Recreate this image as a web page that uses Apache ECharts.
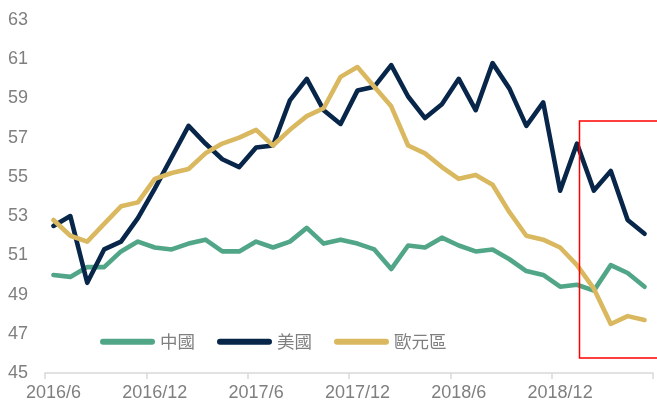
<!DOCTYPE html>
<html>
<head>
<meta charset="utf-8">
<script src="https://cdn.jsdelivr.net/npm/echarts@6/dist/echarts.min.js"></script>
<style>html,body{margin:0;padding:0;background:#fff;}#c{width:657px;height:404px;}</style>
</head>
<body>
<div id="c"></div>
<script>
// categories: monthly 2016/6 .. 2019/5
const categories = [];
for (let y = 2016, m = 6; categories.length < 36; ) {
  categories.push(y + '/' + m);
  m++; if (m > 12) { m = 1; y++; }
}
const seriesNames = ['中國', '美國', '歐元區'];
const china = [50.0, 49.9, 50.4, 50.4, 51.2, 51.7, 51.4, 51.3, 51.6, 51.8, 51.2, 51.2,
               51.7, 51.4, 51.7, 52.4, 51.6, 51.8, 51.6, 51.3, 50.3, 51.5, 51.4, 51.9,
               51.5, 51.2, 51.3, 50.8, 50.2, 50.0, 49.4, 49.5, 49.2, 50.5, 50.1, 49.4];
const usa = [52.5, 53.0, 49.6, 51.3, 51.7, 52.9, 54.4, 56.0, 57.6, 56.7, 55.9, 55.5,
             56.5, 56.6, 58.9, 60.0, 58.4, 57.7, 59.4, 59.6, 60.7, 59.1, 58.0, 58.7,
             60.0, 58.4, 60.8, 59.5, 57.6, 58.8, 54.3, 56.7, 54.3, 55.3, 52.8, 52.1];
const euro = [52.8, 52.0, 51.7, 52.6, 53.5, 53.7, 54.9, 55.2, 55.4, 56.2, 56.7, 57.0,
              57.4, 56.6, 57.4, 58.1, 58.5, 60.1, 60.6, 59.6, 58.6, 56.6, 56.2, 55.5,
              54.9, 55.1, 54.6, 53.2, 52.0, 51.8, 51.4, 50.5, 49.3, 47.5, 47.9, 47.7];
const yTicks = {min: 45, max: 63, interval: 2};

const colors = ['#52A688', '#07264A', '#D9B860'];
const font = '"Liberation Sans Narrow", "Liberation Sans", Arial, sans-serif';
const chart = echarts.init(document.getElementById('c'), null, {renderer: 'canvas'});
const mk = (name, data, color) => ({
  name, type: 'line', data, symbol: 'none', smooth: false,
  lineStyle: {color, width: 4.6, cap: 'round', join: 'round'},
  itemStyle: {color},
  animation: false
});
chart.setOption({
  animation: false,
  color: colors,
  grid: {left: 45, right: 4, top: 20, bottom: 31},
  legend: {
    data: seriesNames,
    left: 100, top: 333, padding: 0,
    itemWidth: 55, itemHeight: 6, itemGap: 22,
    icon: 'path://M3,0 L52,0 A3,3 0 0 1 52,6 L3,6 A3,3 0 0 1 3,0 Z',
    textStyle: {color: '#7f7f7f', fontSize: 17.5, fontFamily: '"Noto Sans CJK TC", sans-serif'}
  },
  xAxis: {
    type: 'category', data: categories, boundaryGap: true,
    axisLine: {lineStyle: {color: '#d9d9d9', width: 1.5}},
    axisTick: {show: true, interval: 5, length: 6, lineStyle: {color: '#d9d9d9', width: 1.5}},
    axisLabel: {interval: 5, color: '#7f7f7f', fontSize: 18, fontFamily: font, margin: 11}
  },
  yAxis: {
    type: 'value', min: yTicks.min, max: yTicks.max, interval: yTicks.interval,
    axisLine: {show: false}, axisTick: {show: false}, splitLine: {show: false},
    axisLabel: {color: '#7f7f7f', fontSize: 18, fontFamily: font, margin: 17}
  },
  series: [mk(seriesNames[0], china, colors[0]), mk(seriesNames[1], usa, colors[1]), mk(seriesNames[2], euro, colors[2])],
  graphic: [{
    type: 'rect', z: 100,
    shape: {x: 579.5, y: 121, width: 100, height: 237},
    style: {fill: 'none', stroke: '#FF0000', lineWidth: 1.5}
  }]
});
</script>
</body>
</html>
